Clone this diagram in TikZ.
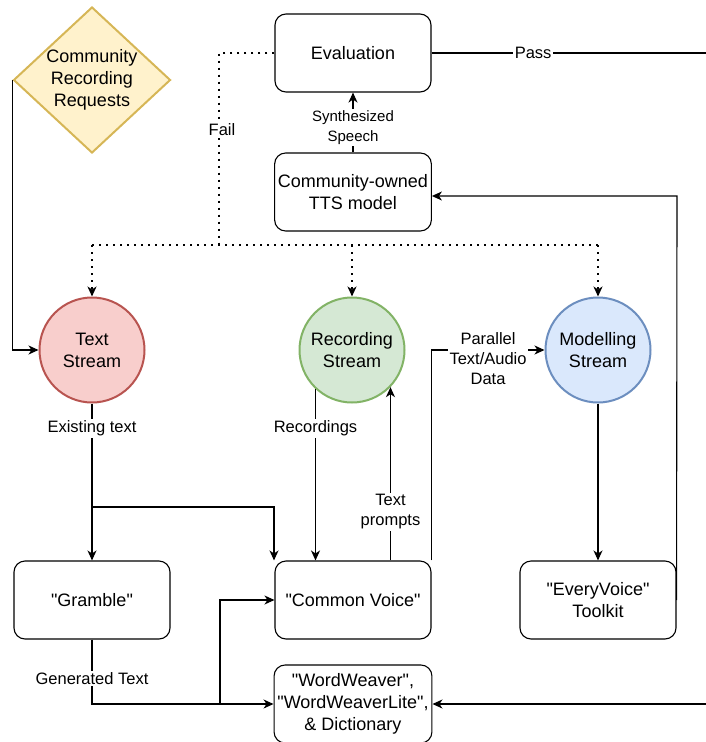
\documentclass[tikz,border=0pt]{standalone}
\usepackage{fontspec}
\setmainfont{Liberation Sans}
\newfontfamily\diagfont{Liberation Sans}
\usetikzlibrary{arrows.meta,shapes.geometric}

\definecolor{reqfill}{HTML}{FFF2CC}
\definecolor{reqline}{HTML}{D6B656}
\definecolor{txtfill}{HTML}{F8CECC}
\definecolor{txtline}{HTML}{B85450}
\definecolor{recfill}{HTML}{D5E8D4}
\definecolor{recline}{HTML}{82B366}
\definecolor{modfill}{HTML}{DAE8FC}
\definecolor{modline}{HTML}{6C8EBF}

\tikzset{
	box/.style={draw, rounded corners=11pt, minimum width=156pt, minimum height=78pt,
		align=center, line width=1.1pt, font=\diagfont\fontsize{18}{22}\selectfont},
	stream/.style={circle, draw, line width=2pt, minimum size=105pt, inner sep=0pt,
		align=center, font=\diagfont\fontsize{18}{22}\selectfont},
	lbl/.style={fill=white, inner sep=1.5pt, align=center, font=\diagfont\fontsize{16.5}{20}\selectfont},
	flow/.style={line width=1.1pt, -{Stealth[length=10pt,width=9pt,inset=3pt]}},
	plain/.style={line width=1.1pt},
	failline/.style={line width=2pt, dash pattern=on 2pt off 5pt},
	failarrow/.style={failline, -{Stealth[length=10pt,width=9pt,inset=3pt]}}
}

\begin{document}
\begin{tikzpicture}[x=1pt,y=-1pt]
	\useasboundingbox (0,0) rectangle (706,742);

	% Boxes
	\node[box] (eval) at (353,53) {Evaluation};
	\node[box] (tts)  at (353,192) {Community-owned\\TTS model};
	\node[box] (gram) at (92,600) {"Gramble"};
	\node[box] (cv)   at (353,600) {"Common Voice"};
	\node[box] (every) at (598,600) {"EveryVoice"\\Toolkit};
	\node[box] (ww)   at (353,704) {"WordWeaver",\\"WordWeaverLite",\\\& Dictionary};

	% Request diamond
	\node[diamond, draw=reqline, fill=reqfill, line width=2pt, inner sep=0pt,
		shape aspect=1.075, minimum width=157pt, minimum height=146pt, align=center,
		font=\diagfont\fontsize{18}{22}\selectfont] (req) at (92,80) {Community\\Recording\\Requests};

	% Streams
	\node[stream, draw=txtline, fill=txtfill] (text) at (92,350) {Text\\Stream};
	\node[stream, draw=recline, fill=recfill] (rec)  at (352,350) {Recording\\Stream};
	\node[stream, draw=modline, fill=modfill] (mod)  at (598,350) {Modelling\\Stream};

	% Helper points
	\coordinate (f1) at (219,53);
	\coordinate (f2) at (219,245);
	\coordinate (fl) at (92,245);
	\coordinate (fm) at (352,245);
	\coordinate (fr) at (598,245);
	\coordinate (passend) at (706,53);
	\coordinate (rv) at (677,196);
	\coordinate (brend) at (706,704);
	\coordinate (tb) at (92,507);
	\coordinate (tc) at (274,507);
	\coordinate (gb) at (220,704);

	% Fail loop
	\draw[failline] (eval.west) -- (f1) -- (f2);
	\draw[failline] (fl) -- (fr);
	\node[lbl] (faillbl) at (222,130) {Fail};
	\draw[failarrow] (fl) -- (text.north);
	\draw[failarrow] (fm) -- (rec.north);
	\draw[failarrow] (fr) -- (mod.north);

	% Pass
	\draw[plain] (eval.east) -- node[lbl, pos=0.37] {Pass} (passend);

	% Model loop
	\draw[flow] (tts.north) -- node[lbl, pos=0.41, font=\diagfont\fontsize{15}{20}\selectfont] {Synthesized\\Speech} (eval.south);
	\draw[flow] (every.east) -- (rv) -- (tts.east |- rv);
	\draw[flow] (brend) -- (ww.east);

	% Requests
	\draw[flow] (req.west) |- (text.west);

	% Text stream
	\draw[flow] (text.south) -- node[lbl, pos=0.16] {Existing text} (gram.north);
	\draw[flow] (tb) -- (tc) -- (tc |- cv.north);

	% Recording stream
	\draw[flow] (rec.227) -- node[lbl, pos=0.23] {Recordings} (rec.227 |- cv.north);
	\draw[flow] (rec.-44 |- cv.north) -- node[lbl, pos=0.28] {Text\\prompts} (rec.-44);
	\draw[flow] (cv.north east) |- node[lbl, pos=0.75, yshift=-9pt] {Parallel\\Text/Audio\\Data} (mod.west);

	% Modelling stream
	\draw[flow] (mod.south) -- (every.north);

	% Gramble output
	\draw[flow] (gram.south) |- node[lbl, pos=0.3] {Generated Text} (ww.west);
	\draw[flow] (gb) |- (cv.west);
\end{tikzpicture}
\end{document}
